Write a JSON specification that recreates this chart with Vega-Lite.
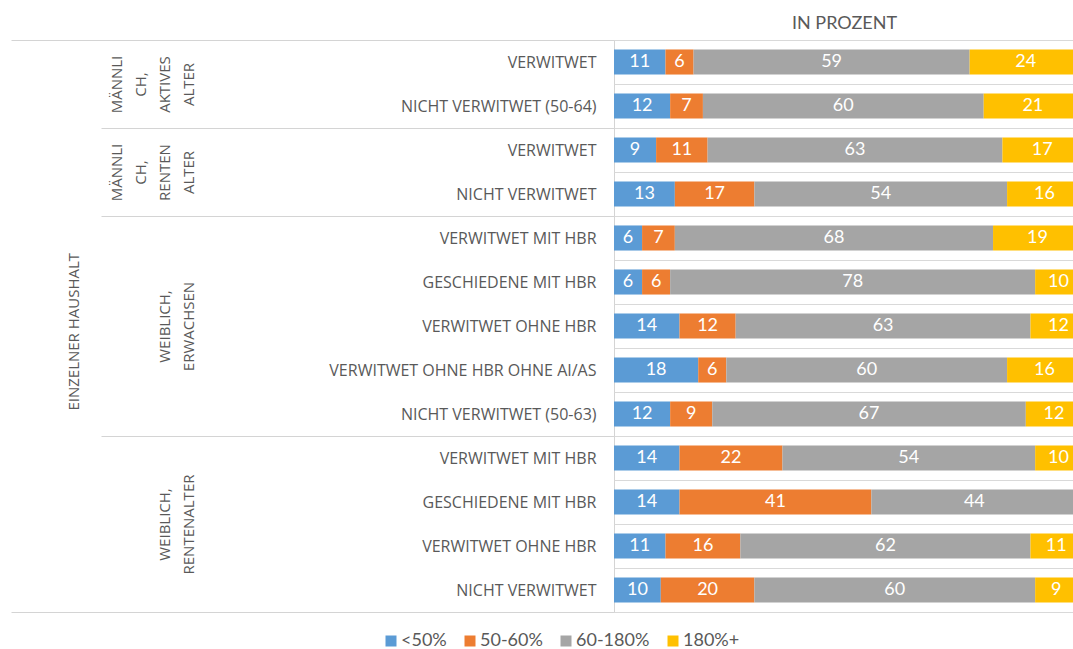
{
  "$schema": "https://vega.github.io/schema/vega-lite/v6.json",
  "padding": {"left": 10, "top": 13, "right": 0, "bottom": 2},
  "background": "white",
  "bounds": "flush",
  "title": {"text": "EINZELNER HAUSHALT", "orient": "left", "anchor": "middle", "font": "Open Sans", "fontSize": 15, "fontWeight": "normal", "color": "#595959", "offset": -72},
  "data": {"values": [
    {"g": "MA", "k": "MA|VERWITWET", "<50%": 11, "50-60%": 6, "60-180%": 59, "180%+": 24},
    {"g": "MA", "k": "MA|NICHT VERWITWET (50-64)", "<50%": 12, "50-60%": 7, "60-180%": 60, "180%+": 21},
    {"g": "MR", "k": "MR|VERWITWET", "<50%": 9, "50-60%": 11, "60-180%": 63, "180%+": 17},
    {"g": "MR", "k": "MR|NICHT VERWITWET", "<50%": 13, "50-60%": 17, "60-180%": 54, "180%+": 16},
    {"g": "WE", "k": "WE|VERWITWET MIT HBR", "<50%": 6, "50-60%": 7, "60-180%": 68, "180%+": 19},
    {"g": "WE", "k": "WE|GESCHIEDENE MIT HBR", "<50%": 6, "50-60%": 6, "60-180%": 78, "180%+": 10},
    {"g": "WE", "k": "WE|VERWITWET OHNE HBR", "<50%": 14, "50-60%": 12, "60-180%": 63, "180%+": 12},
    {"g": "WE", "k": "WE|VERWITWET OHNE HBR OHNE AI/AS", "<50%": 18, "50-60%": 6, "60-180%": 60, "180%+": 16},
    {"g": "WE", "k": "WE|NICHT VERWITWET (50-63)", "<50%": 12, "50-60%": 9, "60-180%": 67, "180%+": 12},
    {"g": "WR", "k": "WR|VERWITWET MIT HBR", "<50%": 14, "50-60%": 22, "60-180%": 54, "180%+": 10},
    {"g": "WR", "k": "WR|GESCHIEDENE MIT HBR", "<50%": 14, "50-60%": 41, "60-180%": 44, "180%+": 1},
    {"g": "WR", "k": "WR|VERWITWET OHNE HBR", "<50%": 11, "50-60%": 16, "60-180%": 62, "180%+": 11},
    {"g": "WR", "k": "WR|NICHT VERWITWET", "<50%": 10, "50-60%": 20, "60-180%": 60, "180%+": 9}
  ]},
  "transform": [
    {"fold": ["<50%", "50-60%", "60-180%", "180%+"], "as": ["cat", "val"]},
    {"stack": "val", "groupby": ["k"], "as": ["v0", "v1"]},
    {"calculate": "(datum.v0 + datum.v1) / 2", "as": "mid"}
  ],
  "spacing": 0,
  "resolve": {"scale": {"color": "shared", "x": "shared"}},
  "vconcat": [
    {
      "width": 460, "height": {"step": 44},
      "transform": [{"filter": "datum.g == 'MA'"}],
      "encoding": {
        "y": {"field": "k", "type": "nominal", "sort": null, "scale": {"paddingInner": 0, "paddingOuter": 0},
          "axis": {"title": ["MÄNNLI", "CH,", "AKTIVES", "ALTER"],
            "tickOpacity": {"condition": {"test": "datum.extra", "value": 1}, "value": 0},
            "tickSize": {"condition": {"test": "datum.extra", "value": 603}, "value": 513}}}
      },
      "layer": [
        {"mark": {"type": "bar", "height": {"band": 0.57}, "clip": true},
          "encoding": {
            "x": {"field": "v0", "type": "quantitative", "scale": {"domain": [0, 98.3], "nice": false},
              "axis": {"orient": "top", "title": "IN PROZENT", "labels": false, "ticks": false, "domain": false, "grid": false, "titleFont": "Lato", "titleFontSize": 18, "titleFontWeight": "normal", "titleColor": "#595959", "titlePadding": 8}},
            "x2": {"field": "v1"},
            "color": {"field": "cat", "type": "nominal", "scale": {"domain": ["<50%", "50-60%", "60-180%", "180%+"], "range": ["#5B9BD5", "#ED7D31", "#A5A5A5", "#FFC000"]}, "legend": {"title": null}}
          }},
        {"mark": {"type": "text", "clip": true, "color": "white", "font": "Lato", "fontSize": 18, "baseline": "middle"},
          "encoding": {"x": {"field": "mid", "type": "quantitative", "axis": {"orient": "top", "title": "IN PROZENT", "labels": false, "ticks": false, "domain": false, "grid": false}}, "text": {"field": "val", "type": "quantitative"}}}
      ]
    },
    {
      "width": 460, "height": {"step": 44},
      "transform": [{"filter": "datum.g == 'MR'"}],
      "encoding": {
        "y": {"field": "k", "type": "nominal", "sort": null, "scale": {"paddingInner": 0, "paddingOuter": 0},
          "axis": {"title": ["MÄNNLI", "CH,", "RENTEN", "ALTER"], "tickOpacity": {"condition": {"test": "datum.extra", "value": 1}, "value": 0}}}
      },
      "layer": [
        {"mark": {"type": "bar", "height": {"band": 0.57}, "clip": true},
          "encoding": {
            "x": {"field": "v0", "type": "quantitative", "scale": {"domain": [0, 98.3], "nice": false}, "axis": null},
            "x2": {"field": "v1"},
            "color": {"field": "cat", "type": "nominal", "scale": {"domain": ["<50%", "50-60%", "60-180%", "180%+"], "range": ["#5B9BD5", "#ED7D31", "#A5A5A5", "#FFC000"]}, "legend": {"title": null}}
          }},
        {"mark": {"type": "text", "clip": true, "color": "white", "font": "Lato", "fontSize": 18, "baseline": "middle"},
          "encoding": {"x": {"field": "mid", "type": "quantitative", "axis": null}, "text": {"field": "val", "type": "quantitative"}}}
      ]
    },
    {
      "width": 460, "height": {"step": 44},
      "transform": [{"filter": "datum.g == 'WE'"}],
      "encoding": {
        "y": {"field": "k", "type": "nominal", "sort": null, "scale": {"paddingInner": 0, "paddingOuter": 0},
          "axis": {"title": ["WEIBLICH,", "ERWACHSEN"], "tickOpacity": {"condition": {"test": "datum.extra", "value": 1}, "value": 0}}}
      },
      "layer": [
        {"mark": {"type": "bar", "height": {"band": 0.57}, "clip": true},
          "encoding": {
            "x": {"field": "v0", "type": "quantitative", "scale": {"domain": [0, 98.3], "nice": false}, "axis": null},
            "x2": {"field": "v1"},
            "color": {"field": "cat", "type": "nominal", "scale": {"domain": ["<50%", "50-60%", "60-180%", "180%+"], "range": ["#5B9BD5", "#ED7D31", "#A5A5A5", "#FFC000"]}, "legend": {"title": null}}
          }},
        {"mark": {"type": "text", "clip": true, "color": "white", "font": "Lato", "fontSize": 18, "baseline": "middle"},
          "encoding": {"x": {"field": "mid", "type": "quantitative", "axis": null}, "text": {"field": "val", "type": "quantitative"}}}
      ]
    },
    {
      "width": 460, "height": {"step": 44},
      "transform": [{"filter": "datum.g == 'WR'"}],
      "encoding": {
        "y": {"field": "k", "type": "nominal", "sort": null, "scale": {"paddingInner": 0, "paddingOuter": 0},
          "axis": {"title": ["WEIBLICH,", "RENTENALTER"],
            "tickOpacity": {"condition": {"test": "datum.extra || datum.value == 'WR|NICHT VERWITWET'", "value": 1}, "value": 0},
            "tickSize": {"condition": {"test": "datum.value == 'WR|NICHT VERWITWET'", "value": 603}, "value": 513},
            "labelPadding": {"condition": {"test": "datum.value == 'WR|NICHT VERWITWET'", "value": -585}, "value": -495}}}
      },
      "layer": [
        {"mark": {"type": "bar", "height": {"band": 0.57}, "clip": true},
          "encoding": {
            "x": {"field": "v0", "type": "quantitative", "scale": {"domain": [0, 98.3], "nice": false}, "axis": null},
            "x2": {"field": "v1"},
            "color": {"field": "cat", "type": "nominal", "scale": {"domain": ["<50%", "50-60%", "60-180%", "180%+"], "range": ["#5B9BD5", "#ED7D31", "#A5A5A5", "#FFC000"]}, "legend": {"title": null}}
          }},
        {"mark": {"type": "text", "clip": true, "color": "white", "font": "Lato", "fontSize": 18, "baseline": "middle"},
          "encoding": {"x": {"field": "mid", "type": "quantitative", "axis": null}, "text": {"field": "val", "type": "quantitative"}}}
      ]
    }
  ],
  "config": {
    "view": {"stroke": "#d4d4d4"},
    "legend": {"orient": "none", "legendX": -232, "legendY": 592, "direction": "horizontal", "symbolType": "square", "symbolSize": 121, "symbolStrokeWidth": 0, "labelFont": "Lato", "labelFontSize": 18, "labelColor": "#595959", "columnPadding": 14, "labelOffset": 1},
    "axisY": {
      "tickBand": "extent", "ticks": true, "tickSize": 513, "tickColor": "#d4d4d4", "tickWidth": 1,
      "labelPadding": -495, "labelExpr": "split(datum.value, '|')[1]",
      "labelFont": "Open Sans", "labelFontSize": 16, "labelColor": "#595959", "labelLimit": 450,
      "grid": true, "gridColor": "#d9d9d9", "domain": false,
      "minExtent": 405, "maxExtent": 405,
      "titleFont": "Open Sans", "titleFontSize": 15, "titleFontWeight": "normal", "titleColor": "#595959", "titleLineHeight": 24, "titlePadding": 13
    }
  }
}
